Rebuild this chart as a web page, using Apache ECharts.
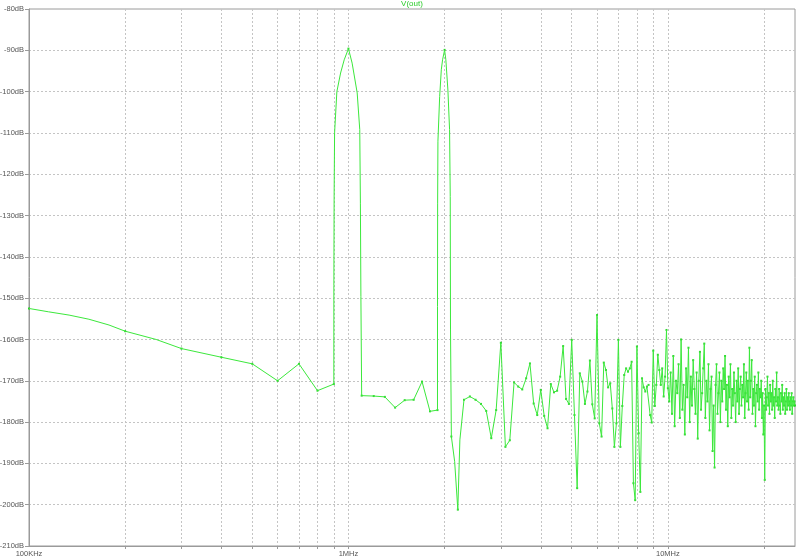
<!DOCTYPE html>
<html>
<head>
<meta charset="utf-8">
<script src="https://cdn.jsdelivr.net/npm/echarts@6/dist/echarts.min.js"></script>
<style>
html,body{margin:0;padding:0;background:#fff;}
#chart{width:800px;height:558px;}
</style>
</head>
<body>
<div id="chart"></div>
<script>
// FFT bins (kHz) and V(out) magnitude (dB)
const binFreqKHz = [
  100,200,300,400,500,600,700,800,900,1000,
  1100,1200,1300,1400,1500,1600,1700,1800,1900,2000,
  2100,2200,2300,2400,2500,2600,2700,2800,2900,3000,
  3100,3200,3300,3400,3500,3600,3700,3800,3900,4000,
  4100,4200,4300,4400,4500,4600,4700,4800,4900,5000,
  5100,5200,5300,5400,5500,5600,5700,5800,5900,6000,
  6100,6200,6300,6400,6500,6600,6700,6800,6900,7000,
  7100,7200,7300,7400,7500,7600,7700,7800,7900,8000,
  8100,8200,8300,8400,8500,8600,8700,8800,8900,9000,
  9100,9200,9300,9400,9500,9600,9700,9800,9900,10000,
  10100,10200,10300,10400,10500,10600,10700,10800,10900,11000,
  11100,11200,11300,11400,11500,11600,11700,11800,11900,12000,
  12100,12200,12300,12400,12500,12600,12700,12800,12900,13000,
  13100,13200,13300,13400,13500,13600,13700,13800,13900,14000,
  14100,14200,14300,14400,14500,14600,14700,14800,14900,15000,
  15100,15200,15300,15400,15500,15600,15700,15800,15900,16000,
  16100,16200,16300,16400,16500,16600,16700,16800,16900,17000,
  17100,17200,17300,17400,17500,17600,17700,17800,17900,18000,
  18100,18200,18300,18400,18500,18600,18700,18800,18900,19000,
  19100,19200,19300,19400,19500,19600,19700,19800,19900,20000,
  20100,20200,20300,20400,20500,20600,20700,20800,20900,21000,
  21100,21200,21300,21400,21500,21600,21700,21800,21900,22000,
  22100,22200,22300,22400,22500,22600,22700,22800,22900,23000,
  23100,23200,23300,23400,23500,23600,23700,23800,23900,24000,
  24100,24200,24300,24400,24500,24600,24700,24800,24900,25000
];
const binDb = [
  -152.5,-158.0,-162.2,-164.3,-165.9,-170.0,-165.9,-172.4,-170.8,-89.6,
  -173.6,-173.7,-173.9,-176.5,-174.7,-174.6,-170.2,-177.4,-177.1,-89.9,
  -183.5,-201.2,-174.6,-173.8,-174.6,-175.6,-177.3,-183.9,-177.1,-160.8,
  -186.0,-184.4,-170.4,-171.4,-172.1,-169.4,-165.8,-175.5,-178.3,-172.2,
  -178.5,-181.5,-170.8,-172.8,-172.4,-169.0,-161.6,-174.4,-175.6,-160.1,
  -178.3,-196.0,-168.2,-170.2,-175.6,-172.6,-165.1,-175.7,-179.1,-154.1,
  -180.3,-183.5,-165.6,-167.4,-171.6,-170.6,-176.7,-186.0,-180.3,-160.1,
  -186.0,-176.1,-168.6,-167.0,-167.8,-167.0,-165.4,-194.8,-198.9,-161.7,
  -182.7,-196.9,-169.4,-171.6,-172.6,-171.4,-171.0,-178.3,-180.1,-162.7,
  -176.1,-171.0,-163.7,-167.4,-171.0,-167.0,-173.8,-169.0,-157.7,-171.8,
  -175,-168,-178,-164,-181,-170,-173,-166,-179,-160,
  -177,-171,-183,-167,-174,-162,-180,-169,-176,-165,
  -172,-178,-168,-184,-170,-163,-177,-173,-167,-161,
  -179,-170,-175,-166,-182,-172,-169,-187,-176,-191,
  -171,-166,-178,-173,-168,-180,-170,-175,-167,-172,
  -164,-177,-171,-181,-169,-174,-166,-179,-172,-176,
  -168,-173,-180,-170,-175,-167,-178,-172,-169,-176,
  -171,-174,-166,-179,-173,-168,-175,-170,-177,-162,
  -174,-170,-165,-178,-172,-176,-169,-181,-173,-171,
  -175,-168,-177,-172,-174,-170,-179,-173,-183,-176,
  -194,-172,-177,-174,-169,-176,-173,-178,-171,-175,
  -173,-177,-170,-176,-174,-179,-172,-175,-168,-176,
  -174,-177,-172,-176,-178,-173,-175,-171,-177,-174,
  -176,-173,-178,-175,-172,-177,-174,-176,-173,-175,
  -177,-174,-176,-173,-178,-175,-174,-176,-175,-176
];
// extra points read along the curved parts of the trace (kHz, dB)
const curveFreqKHz = [115,133.5,154,178,250, 900.3,902,905,920,945,970, 1027,1065,1085,1090,1094,
  1900.3,1902,1906,1930,1953,1971, 2018,2048,2073,2083,2087, 2150,2233];
const curveDb = [-153.3,-154.1,-155.1,-156.5,-160.0, -147,-125,-110,-100,-95.5,-92.3, -93.1,-100.3,-109.2,-127,-149.6,
  -152,-127,-112,-101.2,-94.7,-92.3, -92.3,-99.6,-109.2,-125.4,-157.7, -189.5,-184.3];

const gridFreqHz = [2e5,3e5,4e5,5e5,6e5,7e5,8e5,9e5,1e6,2e6,3e6,4e6,5e6,6e6,7e6,8e6,9e6,1e7,2e7];
const decadeFreqHz = [1e5,1e6,1e7];
const decadeLabels = {100000:'100KHz',1000000:'1MHz',10000000:'10MHz'};

const linePts = [];
binFreqKHz.forEach((f,i)=>linePts.push([f*1000, binDb[i]]));
curveFreqKHz.forEach((f,i)=>linePts.push([f*1000, curveDb[i]]));
linePts.sort((a,b)=>a[0]-b[0]);
const binPts = binFreqKHz.map((f,i)=>[f*1000, binDb[i]]);

const chart = echarts.init(document.getElementById('chart'), null, {renderer:'canvas'});
const font = 'Liberation Sans, Arial, sans-serif';
chart.setOption({
  animation:false,
  backgroundColor:'#ffffff',
  title:{text:'V(out)', left:412, top:0, padding:0, textAlign:'center',
    textStyle:{color:'#2ccc2c', fontSize:8, fontWeight:'normal', fontFamily:font}},
  grid:{left:29, top:9, right:5, bottom:12, containLabel:false, outerBoundsMode:'none',
    show:true, borderColor:'#9a9a9a', borderWidth:1, backgroundColor:'transparent'},
  xAxis:{
    type:'log', logBase:10, min:1e5, max:2.5e7,
    axisLine:{show:true, lineStyle:{color:'#9a9a9a'}},
    axisTick:{show:true, customValues:gridFreqHz, length:3, lineStyle:{color:'#9a9a9a'}},
    axisLabel:{show:true, customValues:decadeFreqHz, margin:4, fontSize:7.5, color:'#555', fontFamily:font,
      formatter:(v)=>decadeLabels[Math.round(v)] || ''},
    splitLine:{show:true, lineStyle:{color:'#c4c4c4', type:[2,2], width:1}},
    minorTick:{show:false}, minorSplitLine:{show:false}
  },
  yAxis:{
    type:'value', min:-210, max:-80, interval:10,
    axisLine:{show:true, lineStyle:{color:'#9a9a9a'}},
    axisTick:{show:true, length:4, lineStyle:{color:'#9a9a9a'}},
    axisLabel:{margin:5, fontSize:7.5, color:'#555', fontFamily:font, formatter:(v)=>v+'dB'},
    splitLine:{show:true, showMinLine:false, showMaxLine:false, lineStyle:{color:'#c4c4c4', type:[2,2], width:1}}
  },
  series:[
    {type:'line', data:linePts, symbol:'none', clip:true,
      lineStyle:{color:'#3ce83c', width:1}},
    {type:'scatter', data:binPts, symbol:'rect', symbolSize:2,
      itemStyle:{color:'#00d000'}}
  ]
});
</script>
</body>
</html>
